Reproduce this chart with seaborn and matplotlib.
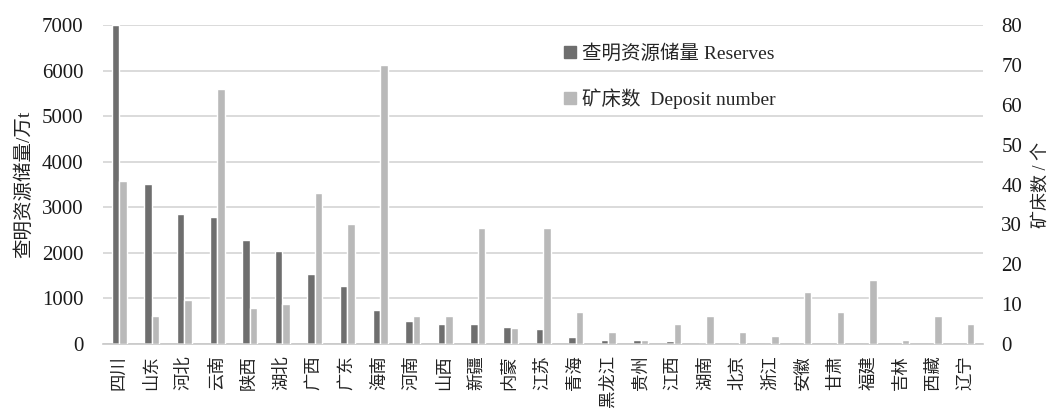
import matplotlib
matplotlib.use('Agg')
import matplotlib.pyplot as plt
from matplotlib.patches import Patch
import seaborn as sns
import pandas as pd

# Provinces and values
provinces = ['四川', '山东', '河北', '云南', '陕西', '湖北', '广西', '广东', '海南',
             '河南', '山西', '新疆', '内蒙', '江苏', '青海', '黑龙江', '贵州', '江西',
             '湖南', '北京', '浙江', '安徽', '甘肃', '福建', '吉林', '西藏', '辽宁']
reserves = [7000, 3510, 2860, 2780, 2290, 2050, 1530, 1270, 750,
            500, 450, 450, 365, 335, 150, 90, 90, 60,
            30, 5, 5, 3, 3, 3, 2, 2, 2]
deposits = [41, 7, 11, 64, 9, 10, 38, 30, 70,
            7, 7, 29, 4, 29, 8, 3, 1, 5,
            7, 3, 2, 13, 8, 16, 1, 7, 5]

res_name = '查明资源储量 Reserves'
dep_name = '矿床数  Deposit number'
dark = '#6e6e6e'
light = '#b9b9b9'

df_res = pd.DataFrame({'province': provinces, 'value': reserves, 'series': res_name})
df_dep = pd.DataFrame({'province': provinces, 'value': deposits, 'series': dep_name})

sns.set_style('white')
serif = ['Liberation Serif', 'Noto Sans CJK SC']
plt.rcParams['font.family'] = serif

fig, ax = plt.subplots(figsize=(10.55, 4.18), dpi=100)
fig.subplots_adjust(left=0.0976, right=0.932, top=0.940, bottom=0.177)
ax2 = ax.twinx()

pal = {res_name: dark, dep_name: light}
order = [res_name, dep_name]
sns.barplot(data=df_res, x='province', y='value', hue='series', hue_order=order,
            palette=pal, width=0.46, dodge=True, ax=ax, legend=False, saturation=1)
sns.barplot(data=df_dep, x='province', y='value', hue='series', hue_order=order,
            palette=pal, width=0.46, dodge=True, ax=ax2, legend=False, saturation=1)

ax.set_ylim(0, 7000)
ax.set_yticks(range(0, 7001, 1000))
ax2.set_ylim(0, 80)
ax2.set_yticks(range(0, 81, 10))
ax.set_xlim(-0.5, len(provinces) - 0.5)

ax.yaxis.grid(True, color='#d4d4d4', linewidth=1.2)
ax.set_axisbelow(True)
for a in (ax, ax2):
    for s in a.spines.values():
        s.set_visible(False)
    a.tick_params(length=0)
ax.spines['bottom'].set_visible(True)
ax.spines['bottom'].set_color('#c8c8c8')
ax.spines['bottom'].set_linewidth(1.2)

ax.tick_params(axis='y', labelsize=15, pad=14, labelcolor='#1a1a1a')
ax2.tick_params(axis='y', labelsize=15, pad=13, labelcolor='#1a1a1a')
for lab in ax.get_yticklabels() + ax2.get_yticklabels():
    lab.set_fontfamily('Liberation Serif')

ax.set_xticks(range(len(provinces)))
ax.set_xticklabels(provinces, rotation=90, fontsize=12.5, color='#222222')
ax.tick_params(axis='x', pad=8)

ax.set_xlabel('')
ax.set_ylabel('查明资源储量/万t', fontsize=14, labelpad=6, color='#222222')
ax2.set_ylabel('矿床数 / 个', fontsize=13, labelpad=8, color='#222222')

handles = [Patch(color=dark, label=res_name), Patch(color=light, label=dep_name)]
leg = ax2.legend(handles=handles, loc='upper left', bbox_to_anchor=(0.504, 0.995),
                 frameon=False, handlelength=0.6, handleheight=0.6, handletextpad=0.3,
                 labelspacing=1.3, prop={'family': serif, 'size': 14})

fig.savefig('out.png', dpi=100)
